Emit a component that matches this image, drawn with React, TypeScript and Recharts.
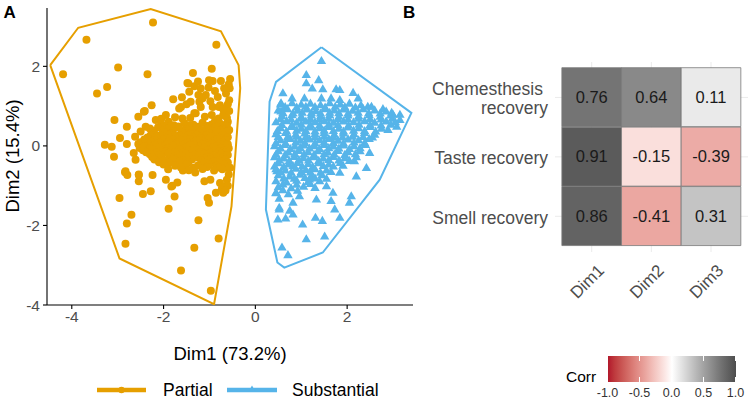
import React from 'react';
import { ScatterChart, Scatter, XAxis, YAxis, BarChart, Bar, Cell, LabelList, CartesianGrid } from 'recharts';

const FONT = '"Liberation Sans", Arial, Helvetica, sans-serif';
const ORANGE = '#E69F00';
const BLUE = '#56B4E9';
const LOW = '#B2182B';
const HIGH = '#4D4D4D';

// ---------- Panel A data (Dim1, Dim2) ----------
const partialPoints: [number, number][] = [
  [-4.19, 1.8], [-3.68, 2.67], [-2.23, 3.1], [-0.85, 2.54], [-2.99, 1.97], [-2.35, 1.8], [-3.45, 1.32], [-3.23, 1.48],
  [-2.26, 1.02], [-3.07, 0.65], [-2.8, 0.48], [-2.41, 0.88], [-2.55, 0.73], [-2.95, 0.2], [-3.28, 0.03], [-3.13, -0.02],
  [-3.08, -0.27], [-2.8, 0.05], [-2.62, 0.23], [-2.65, -0.18], [-2.61, -0.35], [-2.83, -0.64], [-2.79, -0.73], [-2.54, -0.73],
  [-2.54, -0.89], [-2.96, -1.31],
  [-1.36, 1.83], [-0.95, 1.94], [-0.55, 1.68], [-0.75, 1.63], [-0.93, 1.63], [-1.48, 1.58], [-1.19, 1.44], [-1.02, 1.47],
  [-1.33, 1.5], [-0.58, 1.55], [-0.57, 1.15], [-0.82, 1.23], [-1.79, 1.17], [-1.6, 1.22], [-1.44, 1.36], [-1.24, 1.28],
  [-1.08, 1.28], [-1.41, 1.11], [-1.19, 0.98], [-0.93, 0.98], [-0.77, 1.02], [-1.66, 0.94], [-1.95, 0.78], [-2.17, 0.65],
  [-1.59, 0.69], [-1.33, 0.82], [-1.1, 0.73], [-0.8, 0.69], [-0.62, 0.71], [-2.39, 0.48], [-2.5, 0.36],
  [-1.46, 1.57], [-1.01, 1.65], [-0.64, 1.32], [-1.22, 1.11], [-1.62, 0.98], [-0.79, 0.98], [-1.3, 0.82], [-0.95, 0.78],
  [-0.7, 0.78], [-1.89, 0.61], [-0.6, 0.61], [-0.74, 0.53], [-2.43, 0.86],
  [-2.7, -1.73], [-2.8, -1.95], [-2.83, -2.46], [-2.45, -1.21], [-2.28, -1.14], [-1.95, -0.85], [-1.83, -1.02], [-1.7, -0.92],
  [-1.76, -1.27], [-1.89, -1.58], [-1.24, -1.87], [-1.33, -2.56], [-1.62, -3.13], [-0.97, -3.64], [-0.8, -2.33], [-1.04, -1.31],
  [-1.01, -1.43], [-0.86, -1.18], [-0.7, -1.18], [-0.73, -1.08], [-1.11, -0.89], [-0.98, -0.85], [-0.77, -0.93], [-2.24, -0.73],
  [-2.84, -0.66], [-1.31, -0.67], [-1.58, -0.62], [-1.81, -1.0], [-2.54, -0.72], [-0.7, -1.03],
  [-0.56, 1.45], [-0.6, 1.05], [-0.57, 0.88], [-0.55, -0.55], [-0.58, -0.72], [-0.62, -0.85], [-0.6, -1.0], [-0.65, -1.12],
  [-1.25, 1.62], [-0.88, 1.38], [-0.68, 1.45], [-1.15, 1.2], [-0.98, 1.12], [-1.5, 1.05], [-0.7, 0.92], [-1.42, 0.7],
  [-0.88, 0.62], [-1.75, 0.72], [-2.05, 0.68],
  // dense core
  [-2.05, 0.56], [-1.78, 0.52], [-1.55, 0.57], [-1.35, 0.53], [-1.15, 0.58], [-0.95, 0.54], [-0.78, 0.57], [-0.62, 0.5],
  [-1.95, 0.5], [-1.68, 0.49], [-1.45, 0.51], [-1.25, 0.48], [-1.05, 0.5], [-0.86, 0.49], [-0.68, 0.51],
  [-2.3, 0.44], [-2.12, 0.47], [-1.9, 0.43], [-1.7, 0.46], [-1.5, 0.42], [-1.28, 0.45], [-1.05, 0.43], [-0.88, 0.47], [-0.7, 0.42], [-0.57, 0.4],
  [-2.22, 0.38], [-2.02, 0.39], [-1.8, 0.37], [-1.6, 0.39], [-1.38, 0.38], [-1.16, 0.4], [-0.95, 0.37], [-0.76, 0.39], [-0.6, 0.36],
  [-2.2, 0.31], [-2.0, 0.35], [-1.82, 0.32], [-1.6, 0.34], [-1.42, 0.3], [-1.22, 0.34], [-1.0, 0.32], [-0.82, 0.35], [-0.66, 0.3],
  [-2.28, 0.27], [-2.08, 0.26], [-1.88, 0.28], [-1.66, 0.27], [-1.47, 0.26], [-1.28, 0.28], [-1.08, 0.27], [-0.88, 0.26], [-0.7, 0.28],
  [-2.35, 0.21], [-2.15, 0.23], [-1.95, 0.2], [-1.75, 0.24], [-1.55, 0.21], [-1.38, 0.22], [-1.18, 0.19], [-0.96, 0.23], [-0.78, 0.2], [-0.6, 0.22],
  [-2.42, 0.16], [-2.2, 0.15], [-2.0, 0.17], [-1.8, 0.16], [-1.62, 0.15], [-1.42, 0.17], [-1.22, 0.15], [-1.02, 0.16], [-0.84, 0.17], [-0.65, 0.15],
  [-2.5, 0.09], [-2.28, 0.11], [-2.08, 0.08], [-1.88, 0.12], [-1.68, 0.1], [-1.48, 0.09], [-1.3, 0.12], [-1.1, 0.08], [-0.9, 0.11], [-0.72, 0.09],
  [-2.55, 0.05], [-2.32, 0.04], [-2.12, 0.06], [-1.92, 0.05], [-1.72, 0.04], [-1.52, 0.06], [-1.35, 0.05], [-1.15, 0.04], [-0.95, 0.06], [-0.78, 0.05], [-0.6, 0.04],
  [-2.4, -0.01], [-2.2, 0.02], [-2.0, -0.02], [-1.8, 0.01], [-1.6, -0.01], [-1.42, 0.02], [-1.22, -0.02], [-1.02, 0.01], [-0.84, -0.01], [-0.64, 0.02],
  [-2.52, -0.05], [-2.3, -0.06], [-2.1, -0.04], [-1.9, -0.05], [-1.7, -0.06], [-1.52, -0.04], [-1.32, -0.05], [-1.12, -0.06], [-0.93, -0.04], [-0.76, -0.05], [-0.58, -0.06],
  [-2.45, -0.11], [-2.25, -0.09], [-2.05, -0.12], [-1.85, -0.1], [-1.65, -0.09], [-1.45, -0.12], [-1.25, -0.1], [-1.05, -0.11], [-0.86, -0.08], [-0.68, -0.12],
  [-2.38, -0.16], [-2.15, -0.17], [-1.95, -0.15], [-1.76, -0.16], [-1.58, -0.17], [-1.38, -0.15], [-1.18, -0.16], [-0.98, -0.17], [-0.8, -0.15], [-0.64, -0.16],
  [-2.3, -0.21], [-2.1, -0.23], [-1.9, -0.2], [-1.7, -0.24], [-1.52, -0.21], [-1.32, -0.22], [-1.12, -0.2], [-0.94, -0.24], [-0.75, -0.21], [-0.6, -0.23],
  [-2.25, -0.28], [-2.05, -0.27], [-1.84, -0.29], [-1.64, -0.28], [-1.45, -0.27], [-1.25, -0.29], [-1.05, -0.28], [-0.87, -0.27], [-0.7, -0.29],
  [-2.2, -0.34], [-1.98, -0.36], [-1.78, -0.33], [-1.58, -0.37], [-1.38, -0.34], [-1.18, -0.36], [-0.98, -0.33], [-0.8, -0.37], [-0.65, -0.34],
  [-2.1, -0.41], [-1.88, -0.42], [-1.66, -0.4], [-1.46, -0.41], [-1.12, -0.42], [-0.92, -0.4], [-0.74, -0.41], [-0.6, -0.42],
  [-2.0, -0.47], [-1.75, -0.5], [-1.5, -0.46], [-1.25, -0.49], [-1.0, -0.47], [-0.85, -0.5], [-0.68, -0.46],
  [-1.62, -0.54], [-1.35, -0.55], [-1.05, -0.53], [-0.8, -0.54], [-0.62, -0.55],
  [-1.9, -0.59], [-1.45, -0.61], [-1.15, -0.58], [-0.9, -0.62], [-0.72, -0.59],
];

const substantialPoints: [number, number][] = [
  [1.44, 2.13], [1.11, 1.78], [1.38, 1.65], [1.11, 1.57], [1.24, 1.44], [1.47, 1.42], [0.6, 1.32], [0.8, 1.19],
  [0.56, 1.07], [0.56, 0.86], [1.76, 1.42], [1.84, 1.4], [2.13, 1.33], [2.24, 1.19], [1.07, 1.19], [1.44, 1.19],
  [1.65, 1.19], [1.84, 1.15], [2.53, 0.98], [2.78, 0.92], [3.0, 0.78], [3.15, 0.65], [3.08, 0.48], [2.89, 0.4],
  [0.47, -0.64], [0.52, -1.6], [0.49, -1.85], [0.66, -1.83], [1.03, -1.98], [1.11, -2.35], [1.51, -2.28], [1.31, -1.81],
  [1.46, -1.89], [1.84, -1.81], [1.73, -1.6], [1.65, -1.39], [2.05, -1.43], [2.09, -1.27], [0.58, -2.56], [0.71, -2.75],
  [0.52, -1.56], [0.82, -1.73], [0.75, -1.63], [1.84, -0.68], [2.2, -0.77], [2.42, -0.56], [2.49, -0.18], [2.16, -0.39],
  [1.91, -0.5], [1.18, -0.85], [1.55, -1.02], [1.69, -1.18], [0.82, -1.43], [0.52, -1.33], [0.45, -1.18], [0.96, -1.27], [1.33, -1.35],
  // dense core
  [0.55, 1.04], [0.8, 1.07], [1.0, 1.03], [1.2, 1.06], [1.42, 1.02], [1.62, 1.07], [1.85, 1.04], [2.05, 1.06], [2.3, 1.02],
  [0.65, 0.97], [0.9, 0.96], [1.1, 0.98], [1.3, 0.97], [1.52, 0.96], [1.74, 0.98], [1.95, 0.97], [2.18, 0.96], [2.45, 0.98],
  [0.5, 0.89], [0.7, 0.92], [0.92, 0.88], [1.12, 0.91], [1.32, 0.87], [1.52, 0.92], [1.72, 0.89], [1.92, 0.91], [2.12, 0.88], [2.35, 0.92], [2.6, 0.89], [2.85, 0.86],
  [0.6, 0.82], [0.82, 0.81], [1.02, 0.83], [1.22, 0.82], [1.42, 0.81], [1.62, 0.83], [1.82, 0.82], [2.02, 0.81], [2.24, 0.83], [2.47, 0.82], [2.72, 0.81], [2.97, 0.83],
  [0.58, 0.74], [0.8, 0.77], [1.0, 0.73], [1.22, 0.76], [1.42, 0.74], [1.62, 0.77], [1.82, 0.73], [2.02, 0.76], [2.25, 0.74], [2.48, 0.77], [2.72, 0.73], [2.95, 0.76], [3.15, 0.78],
  [0.55, 0.67], [0.78, 0.66], [1.0, 0.68], [1.2, 0.67], [1.4, 0.66], [1.6, 0.68], [1.8, 0.67], [2.02, 0.66], [2.25, 0.68], [2.5, 0.67], [2.74, 0.66], [2.98, 0.68],
  [0.45, 0.59], [0.68, 0.62], [0.9, 0.58], [1.1, 0.61], [1.3, 0.59], [1.5, 0.62], [1.7, 0.58], [1.92, 0.61], [2.14, 0.59], [2.38, 0.62], [2.6, 0.58], [2.85, 0.61], [3.05, 0.59],
  [0.58, 0.52], [0.8, 0.51], [1.0, 0.53], [1.2, 0.52], [1.4, 0.51], [1.6, 0.53], [1.8, 0.52], [2.03, 0.51], [2.26, 0.53], [2.5, 0.52], [2.74, 0.51], [2.95, 0.53],
  [0.55, 0.44], [0.78, 0.47], [1.0, 0.43], [1.2, 0.46], [1.4, 0.44], [1.6, 0.47], [1.82, 0.43], [2.02, 0.46], [2.25, 0.44], [2.5, 0.47], [2.75, 0.43],
  [0.48, 0.37], [0.68, 0.36], [0.9, 0.38], [1.1, 0.37], [1.3, 0.36], [1.5, 0.38], [1.7, 0.37], [1.92, 0.36], [2.14, 0.38], [2.38, 0.37], [2.62, 0.36],
  [0.45, 0.29], [0.66, 0.32], [0.88, 0.28], [1.08, 0.31], [1.3, 0.29], [1.5, 0.32], [1.72, 0.28], [1.92, 0.31], [2.15, 0.29], [2.38, 0.32], [2.6, 0.28],
  [0.5, 0.22], [0.7, 0.21], [0.9, 0.23], [1.1, 0.22], [1.3, 0.21], [1.5, 0.23], [1.7, 0.22], [1.9, 0.21], [2.12, 0.23], [2.35, 0.22], [2.55, 0.21],
  [0.55, 0.14], [0.76, 0.17], [0.98, 0.13], [1.18, 0.16], [1.4, 0.14], [1.6, 0.17], [1.8, 0.13], [2.02, 0.16], [2.25, 0.14], [2.48, 0.17],
  [0.45, 0.07], [0.66, 0.06], [0.88, 0.08], [1.08, 0.07], [1.3, 0.06], [1.5, 0.08], [1.7, 0.07], [1.92, 0.06], [2.15, 0.08], [2.38, 0.07],
  [0.42, -0.01], [0.64, 0.02], [0.86, -0.02], [1.06, 0.01], [1.28, -0.01], [1.5, 0.02], [1.7, -0.02], [1.92, 0.01], [2.15, -0.01], [2.4, 0.02],
  [0.55, -0.07], [0.76, -0.08], [0.98, -0.06], [1.18, -0.07], [1.4, -0.08], [1.6, -0.06], [1.82, -0.07], [2.05, -0.08], [2.28, -0.06],
  [0.5, -0.14], [0.72, -0.17], [0.94, -0.13], [1.15, -0.16], [1.36, -0.14], [1.58, -0.17], [1.8, -0.13], [2.02, -0.16], [2.28, -0.14],
  [0.45, -0.22], [0.65, -0.23], [0.86, -0.21], [1.06, -0.22], [1.28, -0.23], [1.5, -0.21], [1.72, -0.22], [1.95, -0.23], [2.18, -0.21],
  [0.42, -0.29], [0.62, -0.32], [0.85, -0.28], [1.05, -0.31], [1.27, -0.29], [1.48, -0.32], [1.7, -0.28], [1.95, -0.31], [2.2, -0.29],
  [0.52, -0.37], [0.74, -0.38], [0.95, -0.36], [1.16, -0.37], [1.38, -0.38], [1.6, -0.36], [1.82, -0.37], [2.05, -0.38],
  [0.5, -0.44], [0.72, -0.47], [0.92, -0.43], [1.15, -0.46], [1.38, -0.44], [1.6, -0.47], [1.85, -0.43],
  [0.42, -0.52], [0.62, -0.53], [0.82, -0.51], [1.02, -0.52], [1.25, -0.53], [1.48, -0.51], [1.7, -0.52],
  [0.45, -0.59], [0.65, -0.62], [0.88, -0.58], [1.1, -0.61], [1.3, -0.59], [1.55, -0.62],
  [0.55, -0.67], [0.78, -0.68], [1.0, -0.66], [1.2, -0.67], [1.42, -0.68], [1.65, -0.66],
  [0.5, -0.74], [0.75, -0.77], [0.98, -0.73], [1.22, -0.76], [1.45, -0.74],
  [0.62, -0.82], [0.85, -0.83], [1.08, -0.81], [1.3, -0.82], [1.55, -0.83],
  [0.45, -0.89], [0.68, -0.92], [0.9, -0.88], [1.15, -0.91], [1.4, -0.89],
  [0.6, -0.97], [0.9, -0.98], [1.2, -0.96],
  [0.5, -1.04], [0.78, -1.07], [1.05, -1.03], [1.3, -1.06],
  [0.6, -1.12], [0.92, -1.13],
  [0.45, -1.19], [0.72, -1.22],
];

const partialHull: [number, number][] = [
  [-4.47, 2.03], [-3.86, 2.97], [-2.28, 3.44], [-0.75, 2.88], [-0.365, 2.03], [-0.33, 1.45],
  [-0.52, -1.52], [-0.9, -3.98], [-2.96, -2.83], [-4.47, 2.03],
];
const substantialHull: [number, number][] = [
  [1.44, 2.48], [3.4, 0.83], [2.71, -0.85], [1.47, -2.68], [0.63, -3.06], [0.48, -2.93],
  [0.23, -1.6], [0.31, 1.11], [0.45, 1.61], [1.44, 2.48],
];

const xTicks = [-4, -2, 0, 2];
const yTicks = [-4, -2, 0, 2];

// ---------- Panel B data ----------
const rowLabels = ['Chemesthesis recovery', 'Taste recovery', 'Smell recovery'];
const dimLabels = ['Dim1', 'Dim2', 'Dim3'];
const corrDim1 = [0.76, 0.91, 0.86];
const corrDim2 = [0.64, -0.15, -0.41];
const corrDim3 = [0.11, -0.39, 0.31];
const legendBreaks = [-1, -0.5, 0, 0.5, 1];

// ---------- colour helpers (Lab interpolation like ggplot) ----------
const toLin = (c: number) => { const v = c / 255; return v <= 0.04045 ? v / 12.92 : Math.pow((v + 0.055) / 1.055, 2.4); };
const fromLin = (c: number) => { const v = c <= 0.0031308 ? 12.92 * c : 1.055 * Math.pow(c, 1 / 2.4) - 0.055; return Math.max(0, Math.min(255, Math.round(v * 255))); };
const fLab = (t: number) => (t > 0.008856 ? Math.cbrt(t) : 7.787 * t + 16 / 116);
const fInv = (t: number) => (t * t * t > 0.008856 ? t * t * t : (t - 16 / 116) / 7.787);
function hexToLab(hex: string): [number, number, number] {
  const r = toLin(parseInt(hex.slice(1, 3), 16));
  const g = toLin(parseInt(hex.slice(3, 5), 16));
  const b = toLin(parseInt(hex.slice(5, 7), 16));
  const X = (0.4124 * r + 0.3576 * g + 0.1805 * b) / 0.95047;
  const Y = 0.2126 * r + 0.7152 * g + 0.0722 * b;
  const Z = (0.0193 * r + 0.1192 * g + 0.9505 * b) / 1.08883;
  const fx = fLab(X), fy = fLab(Y), fz = fLab(Z);
  return [116 * fy - 16, 500 * (fx - fy), 200 * (fy - fz)];
}
function labToRgb([L, a, bb]: [number, number, number]): string {
  const fy = (L + 16) / 116;
  const fx = fy + a / 500;
  const fz = fy - bb / 200;
  const X = fInv(fx) * 0.95047, Y = fInv(fy), Z = fInv(fz) * 1.08883;
  const r = 3.2406 * X - 1.5372 * Y - 0.4986 * Z;
  const g = -0.9689 * X + 1.8758 * Y + 0.0415 * Z;
  const b = 0.0557 * X - 0.204 * Y + 1.057 * Z;
  return `rgb(${fromLin(r)},${fromLin(g)},${fromLin(b)})`;
}
const WHITE_LAB = hexToLab('#FFFFFF');
const LOW_LAB = hexToLab(LOW);
const HIGH_LAB = hexToLab(HIGH);
function corrColor(v: number): string {
  const t = Math.min(1, Math.abs(v));
  const end = v < 0 ? LOW_LAB : HIGH_LAB;
  return labToRgb([
    WHITE_LAB[0] + (end[0] - WHITE_LAB[0]) * t,
    WHITE_LAB[1] + (end[1] - WHITE_LAB[1]) * t,
    WHITE_LAB[2] + (end[2] - WHITE_LAB[2]) * t,
  ]);
}

const toXY = (arr: [number, number][]) => arr.map(([x, y]) => ({ x, y }));
const partialData = toXY(partialPoints);
const substantialData = toXY(substantialPoints);
const partialHullData = toXY(partialHull);
const substantialHullData = toXY(substantialHull);

const heatTable = rowLabels.map((row, i) => ({
  row, d1: 1, d2: 1, d3: 1, c1: corrDim1[i], c2: corrDim2[i], c3: corrDim3[i],
}));

const Circle = (p: any) => <circle cx={p.cx} cy={p.cy} r={4} fill={ORANGE} />;
const Tri = (p: any) => (
  <path d={`M${p.cx},${p.cy - 5.2}L${p.cx + 4.7},${p.cy + 2.9}L${p.cx - 4.7},${p.cy + 2.9}Z`} fill={BLUE} />
);
const NoShape = () => <g />;

const RowTick = (props: any) => {
  const { x, y, payload } = props;
  const v: string = payload.value;
  const common = { textAnchor: 'end' as const, fill: '#4D4D4D', fontSize: 17.5, fontFamily: FONT };
  if (v === 'Chemesthesis recovery') {
    return (
      <g>
        <text x={x - 5} y={y - 2.2} {...common}>Chemesthesis</text>
        <text x={x} y={y + 16.8} {...common}>recovery</text>
      </g>
    );
  }
  return <text x={x} y={y + 7.3} {...common}>{v}</text>;
};

const DimTick = (props: any) => {
  const { x, y, payload } = props;
  const idx = Math.round(payload.value - 0.5);
  const ax = x + 5;
  return (
    <text x={ax} y={y} dy="0.71em" textAnchor="end" transform={`rotate(-45, ${ax}, ${y})`}
      fill="#4D4D4D" fontSize={17} fontFamily={FONT}>{dimLabels[idx]}</text>
  );
};

const gradientStops: string[] = [];
for (const v of [-1, -0.9, -0.8, -0.7, -0.6, -0.5, -0.4, -0.3, -0.2, -0.1, 0, 0.1, 0.2, 0.3, 0.4, 0.5, 0.6, 0.7, 0.8, 0.9, 1]) {
  gradientStops.push(`${corrColor(v)} ${((v + 1) / 2) * 100}%`);
}

const BAR_LEFT = 607.5;
const BAR_W = 128;

export default function App() {
  return (
    <div style={{ position: 'absolute', left: 0, top: 0, width: 749, height: 403, background: '#fff', fontFamily: FONT }}>
      <div style={{ position: 'absolute', left: 0, top: 0 }}>
        <ScatterChart width={420} height={403} margin={{ top: 8, right: 7, left: 0, bottom: 0 }}>
          <XAxis type="number" dataKey="x" domain={[-4.54, 3.435]} ticks={xTicks} allowDataOverflow interval={0}
            height={98} tickSize={4} tickMargin={2}
            axisLine={{ stroke: '#000', strokeWidth: 1.1 }} tickLine={{ stroke: '#000', strokeWidth: 1.1 }}
            tick={{ fill: '#4D4D4D', fontSize: 15.5, fontFamily: FONT }} />
          <YAxis type="number" dataKey="y" domain={[-4, 3.467]} ticks={yTicks} allowDataOverflow interval={0}
            width={47} tickSize={4} tickMargin={3}
            axisLine={{ stroke: '#000', strokeWidth: 1.1 }} tickLine={{ stroke: '#000', strokeWidth: 1.1 }}
            tick={{ fill: '#4D4D4D', fontSize: 15.5, fontFamily: FONT }} />
          <Scatter data={partialHullData} shape={NoShape} line={{ stroke: ORANGE, strokeWidth: 2 }} isAnimationActive={false} legendType="none" />
          <Scatter data={substantialHullData} shape={NoShape} line={{ stroke: BLUE, strokeWidth: 2 }} isAnimationActive={false} legendType="none" />
          <Scatter data={partialData} shape={Circle} isAnimationActive={false} />
          <Scatter data={substantialData} shape={Tri} isAnimationActive={false} />
        </ScatterChart>
      </div>

      <div style={{ position: 'absolute', left: 400, top: 0 }}>
        <BarChart width={349} height={340} layout="vertical" data={heatTable}
          margin={{ top: 62, right: 1, left: 0, bottom: 0 }} barCategoryGap={0} barGap={0}>
          <CartesianGrid stroke="#EBEBEB" strokeWidth={1} syncWithTicks />
          <XAxis type="number" domain={[-0.115, 3.12]} ticks={[0.5, 1.5, 2.5]} allowDataOverflow interval={0}
            height={88} axisLine={false} tickLine={false} tickSize={0} tickMargin={11} tick={<DimTick />} />
          <YAxis type="category" dataKey="row" width={155} axisLine={false} tickLine={false} tickSize={0} tickMargin={7}
            padding={{ top: 5.7, bottom: 6 }} tick={<RowTick />} interval={0} />
          {([['d1', 'c1'], ['d2', 'c2'], ['d3', 'c3']] as const).map(([dk, ck]) => (
            <Bar key={dk} dataKey={dk} stackId="tiles" isAnimationActive={false}>
              {heatTable.map((r: any, i) => (
                <Cell key={i} fill={corrColor(r[ck])} stroke="#7A7A7A" strokeWidth={0.8} />
              ))}
              <LabelList dataKey={ck} position="center" fill="#1A1A1A" fontSize={16.5} fontFamily={FONT}
                formatter={(v: any) => Number(v).toFixed(2)} />
            </Bar>
          ))}
        </BarChart>
      </div>

      {/* colour bar legend */}
      <div style={{ position: 'absolute', left: BAR_LEFT, top: 356, width: BAR_W, height: 26,
        background: `linear-gradient(to right, ${gradientStops.join(', ')})` }} />
      <svg width={749} height={403} style={{ position: 'absolute', left: 0, top: 0, pointerEvents: 'none' }}>
        {legendBreaks.map((b) => {
          const px = BAR_LEFT + ((b + 1) / 2) * BAR_W;
          return (
            <g key={b}>
              <line x1={px} x2={px} y1={356} y2={361} stroke="#fff" strokeWidth={1} />
              <line x1={px} x2={px} y1={377} y2={382} stroke="#fff" strokeWidth={1} />
              <text x={px} y={397} textAnchor="middle" fontSize={12.5} fill="#333" fontFamily={FONT}>{b.toFixed(1)}</text>
            </g>
          );
        })}
        <text x={566} y={382} fontSize={15.5} fill="#000" fontFamily={FONT}>Corr</text>

        {/* panel labels */}
        <text x={3.5} y={18.3} fontSize={17} fontWeight="bold" fill="#000" fontFamily={FONT}>A</text>
        <text x={403} y={18.3} fontSize={17} fontWeight="bold" fill="#000" fontFamily={FONT}>B</text>

        {/* axis titles */}
        <text x={230} y={360} textAnchor="middle" fontSize={18.5} fill="#000" fontFamily={FONT}>Dim1 (73.2%)</text>
        <text x={19} y={156} textAnchor="middle" fontSize={18.5} fill="#000" fontFamily={FONT}
          transform="rotate(-90, 19, 156)">Dim2 (15.4%)</text>

        {/* group legend */}
        <line x1={97} x2={146} y1={390} y2={390} stroke={ORANGE} strokeWidth={4.5} />
        <circle cx={121.5} cy={390} r={3.2} fill={ORANGE} />
        <text x={163} y={395.5} fontSize={17.5} fill="#000" fontFamily={FONT}>Partial</text>
        <line x1={227} x2={277} y1={390} y2={390} stroke={BLUE} strokeWidth={4.5} />
        <path d="M252,385.5L255.5,391.5L248.5,391.5Z" fill={BLUE} />
        <text x={292} y={395.5} fontSize={17.5} fill="#000" fontFamily={FONT}>Substantial</text>
      </svg>
    </div>
  );
}
